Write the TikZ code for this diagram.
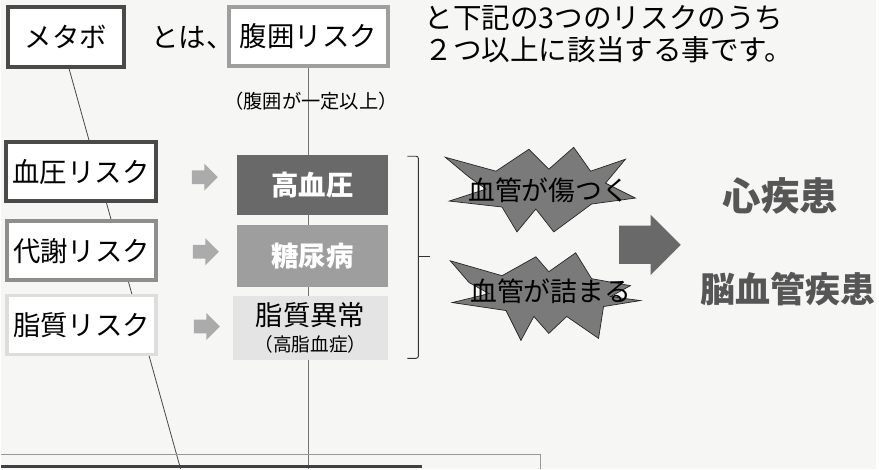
\documentclass[tikz,border=0pt]{standalone}
\usepackage{fontspec}
\setmainfont{Noto Sans CJK JP}
\usetikzlibrary{shapes.arrows, backgrounds}

\definecolor{pagegray}{HTML}{F6F6F5}
\definecolor{darkline}{HTML}{4A4A4A}
\definecolor{midline}{HTML}{8E8E8E}
\definecolor{paleline}{HTML}{DDDDDD}
\definecolor{highfill}{HTML}{696969}
\definecolor{sugarfill}{HTML}{9E9E9E}
\definecolor{lipidfill}{HTML}{E4E4E4}
\definecolor{arrowgray}{HTML}{ABABAB}
\definecolor{burstgray}{HTML}{7A7A7A}
\definecolor{resultgray}{HTML}{565656}

\begin{document}
\begin{tikzpicture}[x=0.03cm, y=-0.03cm,
    riskbox/.style={rectangle, fill=white, line width=3.2pt, minimum width=4.51cm, minimum height=1.78cm, font=\fontsize{23.5}{26}\selectfont},
    illbox/.style={rectangle, minimum width=4.53cm, minimum height=1.8cm, font=\fontsize{23.5}{26}\selectfont},
    smallarrow/.style={single arrow, fill=arrowgray, inner xsep=0pt, inner ysep=0.2cm, minimum height=0.78cm, single arrow head extend=0.2cm, single arrow tip angle=90},
    burst/.style={fill=burstgray, draw=black!85, line width=0.6pt},
    bursttext/.style={font=\fontsize{23}{26}\selectfont},
    result/.style={text=resultgray, font=\fontsize{30}{34}\selectfont\bfseries}]

    % Draw nodes
    \node[riskbox, draw=darkline, minimum width=3.49cm, minimum height=1.81cm] (metabo) at (65,37) {メタボ};
    \node[font=\fontsize{23.5}{26}\selectfont] (towa) at (192,38) {とは、};
    \node[riskbox, draw=midline!85, minimum width=4.78cm] (fukui) at (308.5,36.5) {腹囲リスク};
    \node[font=\fontsize{16.5}{18}\selectfont] (fukuinote) at (311,102) {（腹囲が一定以上）};
    \node[font=\fontsize{24.5}{27.3}\selectfont, align=left, anchor=north west, inner sep=0pt] (intro) at (425,5) {と下記の3つのリスクのうち\\２つ以上に該当する事です。};

    \node[riskbox, draw=darkline] (ketsuatsu) at (80,172.5) {血圧リスク};
    \node[riskbox, draw=midline] (taisha) at (80.5,252) {代謝リスク};
    \node[riskbox, draw=paleline] (shishitsu) at (80.5,326.5) {脂質リスク};

    \node[smallarrow] (arrow1) at (201,178) {};
    \node[smallarrow] (arrow2) at (202,253) {};
    \node[smallarrow] (arrow3) at (203,328) {};

    \node[illbox, fill=highfill, text=white] (kouketsuatsu) at (312.5,186) {\bfseries 高血圧};
    \node[illbox, fill=sugarfill, text=white, minimum height=1.86cm] (tounyou) at (312.5,257) {\bfseries 糖尿病};
    \node[illbox, fill=lipidfill, minimum width=4.65cm, minimum height=1.95cm, align=center] (shishitsuijou) at (310.5,329.5)
        {脂質異常\\[-4pt]{\fontsize{16}{18}\selectfont （高脂血症）}};

    % Bracket
    \draw[black!80, line width=0.8pt, rounded corners=2pt] (408,157) -- (419,157) -- (419,360) -- (408,360);
    \draw[black!80, line width=0.8pt] (419,258) -- (431,258);

    % Bursts
    \draw[burst] (446,158) -- (497,172) -- (530,150) -- (550,170) -- (575,148) -- (592,172)
        -- (627,160) -- (607,184) -- (637,199) -- (593,205) -- (555,233) -- (537,210)
        -- (518,233) -- (503,208) -- (450,202) -- (487,190) -- (470,178) -- cycle;
    \node[bursttext] (kizu) at (550,191) {血管が傷つく};
    \draw[burst] (451,262) -- (503,277) -- (537,258) -- (550,273) -- (577,254) -- (593,280)
        -- (632,287) -- (612,298) -- (642,302) -- (605,308) -- (600,340) -- (568,318)
        -- (550,335) -- (535,318) -- (522,342) -- (507,312) -- (453,304) -- (490,295)
        -- (470,284) -- cycle;
    \node[bursttext] (tsumari) at (552,293) {血管が詰まる};

    \node[single arrow, fill=highfill, inner xsep=0pt, inner ysep=0.57cm, minimum height=1.86cm, single arrow head extend=0.33cm, single arrow tip angle=90] (bigarrow) at (642,246) {};

    \node[result, font=\fontsize{33}{36}\selectfont\bfseries] (shin) at (783,197) {心疾患};
    \node[result] (nou) at (790,290) {脳血管疾患};

    % Lines behind
    \coordinate (slantend) at (180,471);
    \coordinate (vertend) at (308.5,471);
    \begin{scope}[on background layer]
        \fill[pagegray] (0,0) rectangle (879,471);
        \draw[darkline, line width=0.7pt] ([xshift=0.09cm]metabo.south) -- (slantend);
        \draw[black!55, line width=0.6pt] (fukui.south) -- (vertend);
        \draw[black!40, line width=0.8pt] (0,457) -- (542,457) -- (542,471);
        \draw[black!75, line width=2.4pt] (0,468.5) -- (423,468.5);
    \end{scope}
    \useasboundingbox (0,0) rectangle (879,471);
\end{tikzpicture}
\end{document}
